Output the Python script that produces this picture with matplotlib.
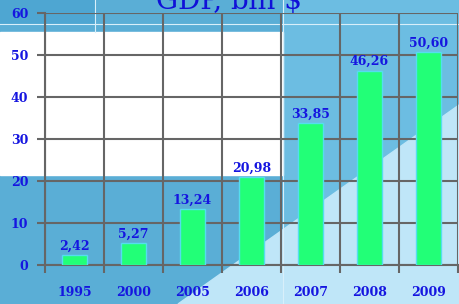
import matplotlib.pyplot as plt
from matplotlib.patches import Rectangle, Polygon

years = ["1995", "2000", "2005", "2006", "2007", "2008", "2009"]
gdp = [2.42, 5.27, 13.24, 20.98, 33.85, 46.26, 50.60]
labels = ["2,42", "5,27", "13,24", "20,98", "33,85", "46,26", "50,60"]

W, H = 459, 304
fig = plt.figure(figsize=(W / 100, H / 100), dpi=100)
fig.patch.set_facecolor("#5aaed6")

# decorative background (figure pixel coords, origin at top-left)
bg = fig.add_axes([0, 0, 1, 1], zorder=0)
bg.set_xlim(0, W)
bg.set_ylim(H, 0)
bg.axis("off")
bg.add_patch(Rectangle((0, 0), W, H, color="#5aaed6"))
bg.add_patch(Rectangle((283, 0), W - 283, H, color="#6cbde2"))
bg.add_patch(Rectangle((0, 0), 95, 24, color="#4ea6d2"))
bg.add_patch(Rectangle((0, 32), 283, 143, color="white"))
bg.add_patch(Polygon([(178, H), (W, 105), (W, H)], color="#bfe6f8"))
bg.plot([95, 95], [0, 32], color="#d8effa", lw=0.8)
bg.plot([283, 283], [0, H], color="#d8effa", lw=0.8)
bg.plot([0, W], [24, 24], color="#d8effa", lw=0.8)

ax = fig.add_axes([45 / W, 39 / H, 413 / W, 252 / H], zorder=1)
ax.patch.set_alpha(0)
x = range(len(years))
ax.bar(x, gdp, width=0.42, color="#22ff77", edgecolor="#55ddee", linewidth=1, zorder=3)
for i, (v, s) in enumerate(zip(gdp, labels)):
    ax.text(i, v + 0.6, s, ha="center", va="bottom", color="#1515e0",
            fontsize=9, fontweight="bold", family="DejaVu Serif", zorder=4)

ax.set_xlim(-0.5, 6.5)
ax.set_ylim(0, 60)
ax.set_yticks(range(0, 61, 10))
ax.set_xticks([i + 0.5 for i in range(-1, 7)], minor=False)
ax.set_xticks(list(x), minor=True)
ax.set_xticklabels([""] * 8)
ax.set_xticklabels(years, minor=True)
ax.tick_params(axis="x", which="major", length=6, width=1.5, color="#666666")
ax.tick_params(axis="x", which="minor", length=0, pad=15)
ax.tick_params(axis="y", length=6, width=1.5, color="#666666", pad=6)
for lab in ax.get_yticklabels() + ax.get_xticklabels(minor=True):
    lab.set_color("#1515e0")
    lab.set_fontweight("bold")
    lab.set_family("DejaVu Serif")
    lab.set_fontsize(9)
ax.grid(True, which="major", color="#666666", lw=1.5, zorder=1)
for sp in ["top", "right"]:
    ax.spines[sp].set_visible(False)
for sp in ["left", "bottom"]:
    ax.spines[sp].set_color("#666666")
    ax.spines[sp].set_linewidth(1.5)

# title is cropped at the top edge in the original image
fig.text(0.5, 0.995, "GDP, bln $", ha="center", va="center", color="#1010d8",
         fontsize=20, family="DejaVu Serif", zorder=5)

fig.savefig("out.png", dpi=100)
